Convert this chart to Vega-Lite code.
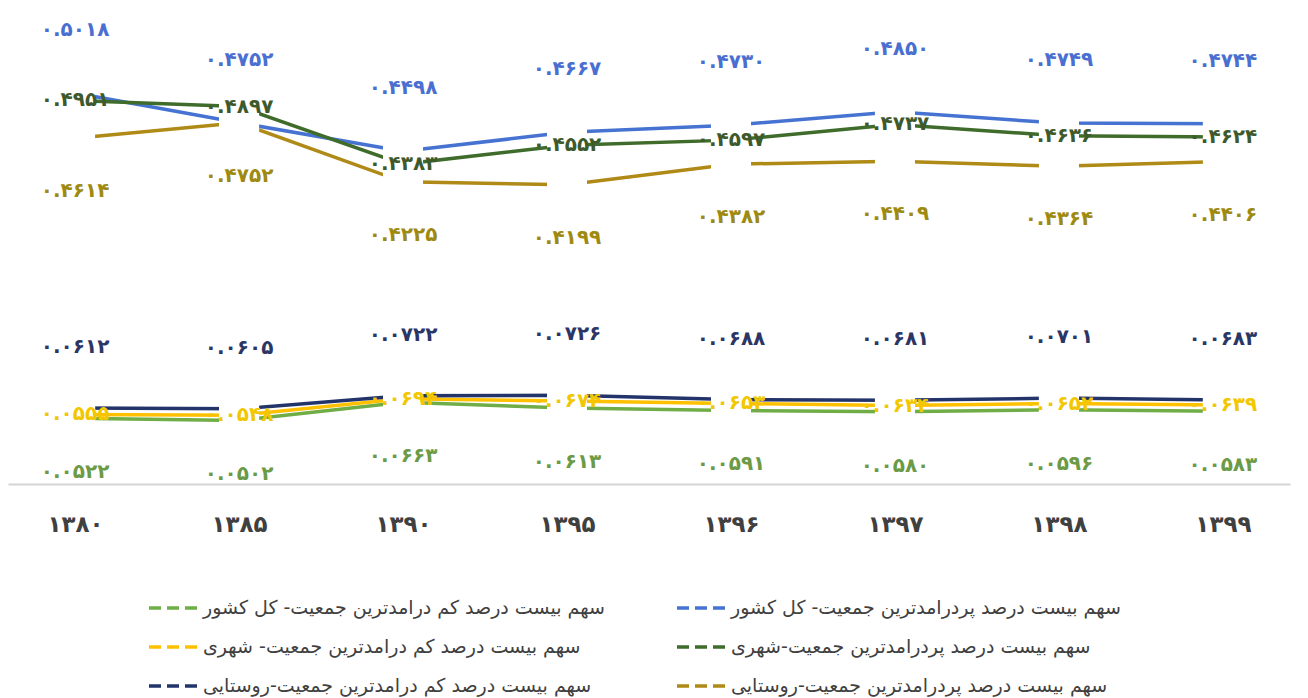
{
  "$schema": "https://vega.github.io/schema/vega-lite/v6.json",
  "width": 1282,
  "height": 484,
  "autosize": {"type": "none"},
  "padding": {"left": 8, "top": 0, "right": 18, "bottom": 214},
  "background": "white",
  "config": {
    "locale": {
      "number": {
        "decimal": ".",
        "thousands": ",",
        "grouping": [3],
        "currency": ["", ""],
        "numerals": ["۰", "۱", "۲", "۳", "۴", "۵", "۶", "۷", "۸", "۹"]
      }
    },
    "view": {"stroke": null},
    "font": "DejaVu Sans",
    "axis": {"grid": false}
  },
  "datasets": {
    "d": [
      {"year": "۱۳۸۰", "series": "سهم بیست درصد پردرامدترین جمعیت- کل کشور", "value": 0.5018},
      {"year": "۱۳۸۵", "series": "سهم بیست درصد پردرامدترین جمعیت- کل کشور", "value": 0.4752},
      {"year": "۱۳۹۰", "series": "سهم بیست درصد پردرامدترین جمعیت- کل کشور", "value": 0.4498},
      {"year": "۱۳۹۵", "series": "سهم بیست درصد پردرامدترین جمعیت- کل کشور", "value": 0.4667},
      {"year": "۱۳۹۶", "series": "سهم بیست درصد پردرامدترین جمعیت- کل کشور", "value": 0.4730},
      {"year": "۱۳۹۷", "series": "سهم بیست درصد پردرامدترین جمعیت- کل کشور", "value": 0.4850},
      {"year": "۱۳۹۸", "series": "سهم بیست درصد پردرامدترین جمعیت- کل کشور", "value": 0.4749},
      {"year": "۱۳۹۹", "series": "سهم بیست درصد پردرامدترین جمعیت- کل کشور", "value": 0.4744},
      {"year": "۱۳۸۰", "series": "سهم بیست درصد پردرامدترین جمعیت-شهری", "value": 0.4951},
      {"year": "۱۳۸۵", "series": "سهم بیست درصد پردرامدترین جمعیت-شهری", "value": 0.4897},
      {"year": "۱۳۹۰", "series": "سهم بیست درصد پردرامدترین جمعیت-شهری", "value": 0.4383},
      {"year": "۱۳۹۵", "series": "سهم بیست درصد پردرامدترین جمعیت-شهری", "value": 0.4552},
      {"year": "۱۳۹۶", "series": "سهم بیست درصد پردرامدترین جمعیت-شهری", "value": 0.4597},
      {"year": "۱۳۹۷", "series": "سهم بیست درصد پردرامدترین جمعیت-شهری", "value": 0.4737},
      {"year": "۱۳۹۸", "series": "سهم بیست درصد پردرامدترین جمعیت-شهری", "value": 0.4636},
      {"year": "۱۳۹۹", "series": "سهم بیست درصد پردرامدترین جمعیت-شهری", "value": 0.4624},
      {"year": "۱۳۸۰", "series": "سهم بیست درصد پردرامدترین جمعیت-روستایی", "value": 0.4614},
      {"year": "۱۳۸۵", "series": "سهم بیست درصد پردرامدترین جمعیت-روستایی", "value": 0.4752},
      {"year": "۱۳۹۰", "series": "سهم بیست درصد پردرامدترین جمعیت-روستایی", "value": 0.4225},
      {"year": "۱۳۹۵", "series": "سهم بیست درصد پردرامدترین جمعیت-روستایی", "value": 0.4199},
      {"year": "۱۳۹۶", "series": "سهم بیست درصد پردرامدترین جمعیت-روستایی", "value": 0.4382},
      {"year": "۱۳۹۷", "series": "سهم بیست درصد پردرامدترین جمعیت-روستایی", "value": 0.4409},
      {"year": "۱۳۹۸", "series": "سهم بیست درصد پردرامدترین جمعیت-روستایی", "value": 0.4364},
      {"year": "۱۳۹۹", "series": "سهم بیست درصد پردرامدترین جمعیت-روستایی", "value": 0.4406},
      {"year": "۱۳۸۰", "series": "سهم بیست درصد کم درامدترین جمعیت- کل کشور", "value": 0.0522},
      {"year": "۱۳۸۵", "series": "سهم بیست درصد کم درامدترین جمعیت- کل کشور", "value": 0.0502},
      {"year": "۱۳۹۰", "series": "سهم بیست درصد کم درامدترین جمعیت- کل کشور", "value": 0.0663},
      {"year": "۱۳۹۵", "series": "سهم بیست درصد کم درامدترین جمعیت- کل کشور", "value": 0.0613},
      {"year": "۱۳۹۶", "series": "سهم بیست درصد کم درامدترین جمعیت- کل کشور", "value": 0.0591},
      {"year": "۱۳۹۷", "series": "سهم بیست درصد کم درامدترین جمعیت- کل کشور", "value": 0.0580},
      {"year": "۱۳۹۸", "series": "سهم بیست درصد کم درامدترین جمعیت- کل کشور", "value": 0.0596},
      {"year": "۱۳۹۹", "series": "سهم بیست درصد کم درامدترین جمعیت- کل کشور", "value": 0.0583},
      {"year": "۱۳۸۰", "series": "سهم بیست درصد کم درامدترین جمعیت- شهری", "value": 0.0555},
      {"year": "۱۳۸۵", "series": "سهم بیست درصد کم درامدترین جمعیت- شهری", "value": 0.0548},
      {"year": "۱۳۹۰", "series": "سهم بیست درصد کم درامدترین جمعیت- شهری", "value": 0.0694},
      {"year": "۱۳۹۵", "series": "سهم بیست درصد کم درامدترین جمعیت- شهری", "value": 0.0674},
      {"year": "۱۳۹۶", "series": "سهم بیست درصد کم درامدترین جمعیت- شهری", "value": 0.0653},
      {"year": "۱۳۹۷", "series": "سهم بیست درصد کم درامدترین جمعیت- شهری", "value": 0.0634},
      {"year": "۱۳۹۸", "series": "سهم بیست درصد کم درامدترین جمعیت- شهری", "value": 0.0652},
      {"year": "۱۳۹۹", "series": "سهم بیست درصد کم درامدترین جمعیت- شهری", "value": 0.0639},
      {"year": "۱۳۸۰", "series": "سهم بیست درصد کم درامدترین جمعیت-روستایی", "value": 0.0612},
      {"year": "۱۳۸۵", "series": "سهم بیست درصد کم درامدترین جمعیت-روستایی", "value": 0.0605},
      {"year": "۱۳۹۰", "series": "سهم بیست درصد کم درامدترین جمعیت-روستایی", "value": 0.0722},
      {"year": "۱۳۹۵", "series": "سهم بیست درصد کم درامدترین جمعیت-روستایی", "value": 0.0726},
      {"year": "۱۳۹۶", "series": "سهم بیست درصد کم درامدترین جمعیت-روستایی", "value": 0.0688},
      {"year": "۱۳۹۷", "series": "سهم بیست درصد کم درامدترین جمعیت-روستایی", "value": 0.0681},
      {"year": "۱۳۹۸", "series": "سهم بیست درصد کم درامدترین جمعیت-روستایی", "value": 0.0701},
      {"year": "۱۳۹۹", "series": "سهم بیست درصد کم درامدترین جمعیت-روستایی", "value": 0.0683}
    ]
  },
  "data": {"name": "d"},
  "encoding": {
    "x": {
      "field": "year",
      "type": "ordinal",
      "sort": null,
      "scale": {"type": "point", "padding": 0.409},
      "axis": {
        "title": null,
        "labelAngle": 0,
        "ticks": false,
        "domainColor": "#d4d4d4",
        "domainWidth": 2,
        "labelFontSize": 23,
        "labelFontWeight": "bold",
        "labelColor": "#404040",
        "labelPadding": 29,
        "labelFont": "DejaVu Sans"
      }
    }
  },
  "layer": [
    {
      "transform": [{"filter": "indexof(datum.series, 'پردرامدترین') >= 0"}],
      "encoding": {
        "y": {"field": "value", "type": "quantitative", "scale": {"domain": [0.1527, 0.5848], "nice": false, "zero": false}, "axis": null}
      },
      "layer": [
        {
          "mark": {"type": "line", "strokeWidth": 3.5},
          "encoding": {
            "color": {
              "field": "series",
              "type": "nominal",
              "sort": null,
              "scale": {
                "domain": [
                  "سهم بیست درصد کم درامدترین جمعیت- کل کشور",
                  "سهم بیست درصد پردرامدترین جمعیت- کل کشور",
                  "سهم بیست درصد کم درامدترین جمعیت- شهری",
                  "سهم بیست درصد پردرامدترین جمعیت-شهری",
                  "سهم بیست درصد کم درامدترین جمعیت-روستایی",
                  "سهم بیست درصد پردرامدترین جمعیت-روستایی"
                ],
                "range": ["#70ad47", "#4673d1", "#ffc000", "#3f6b2b", "#23346a", "#b08a16"]
              },
              "legend": {
                "orient": "none",
                "legendX": 139,
                "legendY": 582,
                "direction": "horizontal",
                "columns": 2,
                "columnPadding": 65,
                "rowPadding": 3,
                "title": null,
                "padding": 0,
                "labelFontSize": 19,
                "labelColor": "#404040",
                "labelLimit": 700,
                "labelFont": "DejaVu Sans",
                "symbolType": "stroke",
                "symbolSize": 2304,
                "symbolStrokeWidth": 3.5,
                "symbolDash": [12, 6]
              }
            }
          }
        },
        {"mark": {"type": "square", "size": 1600, "filled": true, "opacity": 1, "strokeWidth": 0}, "encoding": {"color": {"value": "white"}}},
        {
          "transform": [{"filter": "datum.series == 'سهم بیست درصد پردرامدترین جمعیت- کل کشور'"}],
          "mark": {"type": "text", "fontSize": 20, "fontWeight": "bold", "dy": -63, "align": "center", "baseline": "middle"},
          "encoding": {"text": {"field": "value", "type": "quantitative", "format": ".4f"}, "color": {"value": "#4a6fd0"}}
        },
        {
          "transform": [{"filter": "datum.series == 'سهم بیست درصد پردرامدترین جمعیت-شهری'"}],
          "mark": {"type": "text", "fontSize": 20, "fontWeight": "bold", "dy": 0, "align": "center", "baseline": "middle"},
          "encoding": {"text": {"field": "value", "type": "quantitative", "format": ".4f"}, "color": {"value": "#3e5a2c"}}
        },
        {
          "transform": [{"filter": "datum.series == 'سهم بیست درصد پردرامدترین جمعیت-روستایی'"}],
          "mark": {"type": "text", "fontSize": 20, "fontWeight": "bold", "dy": 53, "align": "center", "baseline": "middle"},
          "encoding": {"text": {"field": "value", "type": "quantitative", "format": ".4f"}, "color": {"value": "#9e8a10"}}
        }
      ]
    },
    {
      "transform": [{"filter": "indexof(datum.series, 'کم درامدترین') >= 0"}],
      "encoding": {
        "y": {"field": "value", "type": "quantitative", "scale": {"domain": [-0.0066, 0.4255], "nice": false, "zero": false}, "axis": null}
      },
      "layer": [
        {
          "mark": {"type": "line", "strokeWidth": 3.5},
          "encoding": {"color": {"field": "series", "type": "nominal", "sort": null}}
        },
        {"mark": {"type": "square", "size": 1600, "filled": true, "opacity": 1, "strokeWidth": 0}, "encoding": {"color": {"value": "white"}}},
        {
          "transform": [{"filter": "datum.series == 'سهم بیست درصد کم درامدترین جمعیت-روستایی'"}],
          "mark": {"type": "text", "fontSize": 20, "fontWeight": "bold", "dy": -61, "align": "center", "baseline": "middle"},
          "encoding": {"text": {"field": "value", "type": "quantitative", "format": ".4f"}, "color": {"value": "#2b3665"}}
        },
        {
          "transform": [{"filter": "datum.series == 'سهم بیست درصد کم درامدترین جمعیت- شهری'"}],
          "mark": {"type": "text", "fontSize": 20, "fontWeight": "bold", "dy": 0, "align": "center", "baseline": "middle"},
          "encoding": {"text": {"field": "value", "type": "quantitative", "format": ".4f"}, "color": {"value": "#f2c700"}}
        },
        {
          "transform": [{"filter": "datum.series == 'سهم بیست درصد کم درامدترین جمعیت- کل کشور'"}],
          "mark": {"type": "text", "fontSize": 20, "fontWeight": "bold", "dy": 54, "align": "center", "baseline": "middle"},
          "encoding": {"text": {"field": "value", "type": "quantitative", "format": ".4f"}, "color": {"value": "#6c9a45"}}
        }
      ]
    }
  ],
  "resolve": {"scale": {"y": "independent"}}
}
